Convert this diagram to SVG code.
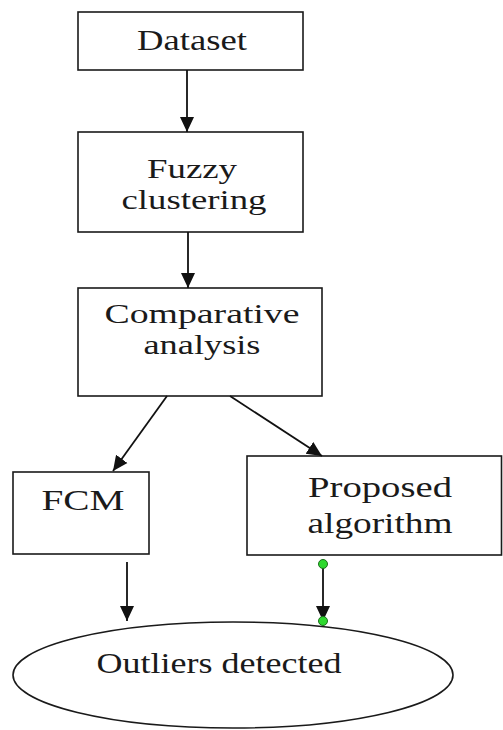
<svg xmlns="http://www.w3.org/2000/svg" width="503" height="730" viewBox="0 0 503 730">
  <style>
    .box { fill: #ffffff; stroke: #1a1a1a; stroke-width: 1.6; }
    .lbl { font-family: "Liberation Serif", "Times New Roman", serif; font-size: 30px; fill: #1a1a1a; text-anchor: middle; }
    .lbl.tight { font-size: 28px; }
    .edge { fill: none; stroke: #111111; stroke-width: 1.8; }
    .handle { fill: #2ed82e; stroke: #1c6e1c; stroke-width: 1; }
  </style>
  <defs>
    <marker id="head" markerUnits="userSpaceOnUse" markerWidth="16" markerHeight="16" viewBox="0 0 16 16" refX="15" refY="8" orient="auto">
      <path d="M0,1 L15,8 L0,15 Z" fill="#111111"/>
    </marker>
  </defs>
  <rect width="503" height="730" fill="#ffffff"/>

  <g id="dataset">
    <rect class="box" x="78" y="12" width="225" height="58"/>
    <text class="lbl" x="192" y="50" textLength="110" lengthAdjust="spacingAndGlyphs">Dataset</text>
  </g>

  <g id="fuzzy-clustering">
    <rect class="box" x="78" y="132" width="225" height="100"/>
    <text class="lbl tight" x="192" y="178" textLength="90" lengthAdjust="spacingAndGlyphs">Fuzzy</text>
    <text class="lbl tight" x="194" y="209" textLength="145" lengthAdjust="spacingAndGlyphs">clustering</text>
  </g>

  <g id="comparative-analysis">
    <rect class="box" x="78" y="288" width="244" height="108"/>
    <text class="lbl tight" x="202" y="323" textLength="195" lengthAdjust="spacingAndGlyphs">Comparative</text>
    <text class="lbl tight" x="202" y="354" textLength="117" lengthAdjust="spacingAndGlyphs">analysis</text>
  </g>

  <g id="fcm">
    <rect class="box" x="13" y="472" width="136" height="82"/>
    <text class="lbl" x="83" y="510" textLength="83" lengthAdjust="spacingAndGlyphs">FCM</text>
  </g>

  <g id="proposed-algorithm">
    <rect class="box" x="247" y="456" width="254.5" height="99"/>
    <text class="lbl" x="380" y="497" textLength="144" lengthAdjust="spacingAndGlyphs">Proposed</text>
    <text class="lbl" x="380" y="533" textLength="145" lengthAdjust="spacingAndGlyphs">algorithm</text>
  </g>

  <g id="outliers-detected">
    <ellipse class="box" cx="233" cy="675" rx="220" ry="53"/>
    <text class="lbl" x="219" y="673" textLength="245" lengthAdjust="spacingAndGlyphs">Outliers detected</text>
  </g>

  <g id="connectors">
    <path class="edge" d="M187,70 L187,132" marker-end="url(#head)"/>
    <path class="edge" d="M188,232 L188,288" marker-end="url(#head)"/>
    <path class="edge" d="M167,396 L113,471" marker-end="url(#head)"/>
    <path class="edge" d="M230,396 L322,456" marker-end="url(#head)"/>
    <path class="edge" d="M127,562 L127,621" marker-end="url(#head)"/>
    <path class="edge" d="M323,564 L323,621" marker-end="url(#head)"/>
    <circle class="handle" cx="323" cy="564" r="4.5"/>
    <circle class="handle" cx="323" cy="621" r="4.5"/>
  </g>
</svg>
